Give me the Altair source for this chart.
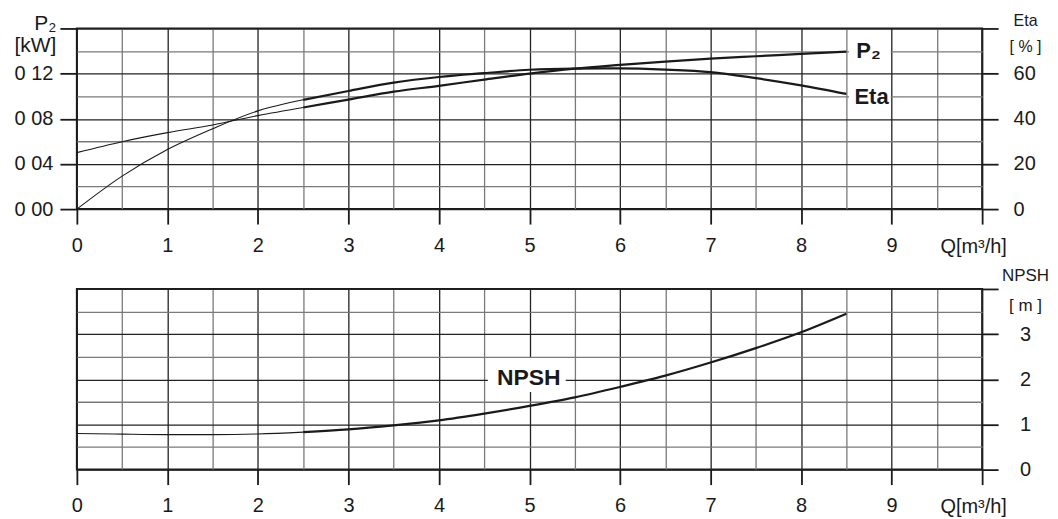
import altair as alt
import pandas as pd

# ---------------- data ----------------
Q = [0, 0.5, 1, 1.5, 2, 2.5, 3, 3.5, 4, 4.5, 5, 5.5, 6, 6.5, 7, 7.5, 8, 8.5]
P2 = [0.0500, 0.0597, 0.0677, 0.0745, 0.0828, 0.0900, 0.0970, 0.1040, 0.1092,
      0.1147, 0.1200, 0.1244, 0.1277, 0.1307, 0.1333, 0.1354, 0.1374, 0.1395]
ETA = [0.0, 14.6, 26.4, 35.6, 43.5, 48.4, 52.3, 56.0, 58.5,
       60.2, 61.7, 62.2, 62.3, 61.8, 60.7, 58.0, 54.8, 51.0]
NPSH = [0.80, 0.785, 0.775, 0.775, 0.79, 0.83, 0.89, 0.98, 1.09,
        1.24, 1.41, 1.60, 1.83, 2.08, 2.37, 2.69, 3.04, 3.45]
THICK_FROM = 2.5  # the curves are drawn heavier from this flow onwards

# curve labels (text, anchor Q, anchor value) and their white boxes (Q1, Q2, v1, v2)
P2_LABEL = ["P₂", 8.61, 0.1342]
ETA_LABEL = ["Eta", 8.59, 46.6]
NPSH_LABEL = ["NPSH", 4.64, 1.88]
P2_BOX = [8.53, 8.99, 0.131, 0.149]
ETA_BOX = [8.53, 8.99, 44.5, 55.0]
NPSH_BOX = [4.54, 5.40, 1.72, 2.47]

Q_DOMAIN = [0, 10]
P2_DOMAIN = [0, 0.16]
ETA_DOMAIN = [0, 80]
NPSH_DOMAIN = [0, 4]

FONT = "Liberation Sans"
INK = "#1a1a1a"
GRID_DARK = "#222222"
GRID_LIGHT = "#7a7a7a"
W, H = 907, 181


def segments(values):
    rows = []
    for q, v in zip(Q, values):
        if q <= THICK_FROM:
            rows.append({"Q": q, "v": v, "seg": "thin"})
        if q >= THICK_FROM:
            rows.append({"Q": q, "v": v, "seg": "thick"})
    return pd.DataFrame(rows)


def box_df(box):
    return pd.DataFrame([box], columns=["Q", "Q2", "v", "v2"])


def label_df(lab):
    return pd.DataFrame([lab], columns=["t", "Q", "v"])


def x_axis():
    return alt.Axis(
        values=[i * 0.5 for i in range(21)],
        grid=True,
        gridColor={"condition": {"test": "datum.value % 1 === 0", "value": GRID_DARK},
                   "value": GRID_LIGHT},
        gridWidth=1.3,
        domain=False,
        tickSize=15, tickWidth=1.8, tickColor=INK,
        tickOpacity={"condition": {"test": "datum.value % 1 === 0", "value": 1}, "value": 0},
        labelExpr="datum.value % 1 === 0 && datum.value < 10 ? format(datum.value, 'd') : ''",
        labelFontSize=20, labelPadding=11, labelFlush=False,
        title="Q[m³/h]", titleFontSize=20, titleX=898, titleY=43,
        titleAlign="center", titleBaseline="alphabetic",
    )


strokew = alt.StrokeWidth("seg:N", scale=alt.Scale(domain=["thin", "thick"], range=[1.1, 2.2]),
                          legend=None)


def panel(values, label, box, y_scale, y_axis, font_size, x_axis_obj):
    line = alt.Chart(segments(values)).mark_line(color=INK, interpolate="monotone").encode(
        strokeWidth=strokew)
    bg = alt.Chart(box_df(box)).mark_rect(color="white").encode(x2="Q2:Q", y2="v2:Q")
    txt = alt.Chart(label_df(label)).mark_text(
        font=FONT, fontSize=font_size, fontWeight="bold", align="left",
        baseline="alphabetic", color=INK).encode(text="t:N")
    return alt.layer(line, bg, txt).encode(
        x=alt.X("Q:Q", scale=alt.Scale(domain=Q_DOMAIN, nice=False), axis=x_axis_obj,
                title="Q[m³/h]"),
        y=alt.Y("v:Q", scale=y_scale, axis=y_axis),
    )


# ---------------- top panel: P2 (left) and Eta (right) ----------------
p2_axis = alt.Axis(
    values=[round(i * 0.02, 2) for i in range(9)],
    grid=True,
    gridColor={"condition": {"test": "round(datum.value * 100) % 4 === 0", "value": GRID_DARK},
               "value": GRID_LIGHT},
    gridWidth=1.3,
    domain=False,
    tickSize=17, tickWidth=1.8, tickColor=INK,
    tickOpacity={"condition": {"test": "round(datum.value * 100) % 4 === 0", "value": 1},
                 "value": 0},
    labelExpr="round(datum.value * 100) % 4 === 0 && datum.value < 0.15 ? "
              "replace(format(datum.value, '.2f'), '.', ' ') : ''",
    labelFontSize=20, labelPadding=7, labelFlush=False, labelBaseline="middle",
    title=["P₂", "[kW]"], titleAngle=0, titleAlign="right", titleBaseline="alphabetic",
    titleX=-21, titleY=1, titleFontSize=21, titleLineHeight=22,
)
eta_axis = alt.Axis(
    orient="right",
    values=[0, 20, 40, 60, 80],
    grid=False, domain=False,
    tickSize=16, tickWidth=1.8, tickColor=INK,
    labelExpr="datum.value < 80 ? datum.label : ''",
    labelFontSize=20, labelPadding=15, labelAlign="left", labelFlush=False,
    labelBaseline="middle",
    title=["Eta", "[ % ]"], titleAngle=0, titleAlign="center", titleBaseline="alphabetic",
    titleX=43, titleY=-3, titleFontSize=16, titleLineHeight=26,
)

top_p2 = panel(P2, P2_LABEL, P2_BOX, alt.Scale(domain=P2_DOMAIN, nice=False), p2_axis, 22,
               x_axis())
top_eta = panel(ETA, ETA_LABEL, ETA_BOX, alt.Scale(domain=ETA_DOMAIN, nice=False), eta_axis,
                22, x_axis())
top = alt.layer(top_p2, top_eta).resolve_scale(y="independent").properties(width=W, height=H)

# ---------------- bottom panel: NPSH ----------------
npsh_axis = alt.Axis(
    orient="right",
    values=[i * 0.5 for i in range(9)],
    grid=True,
    gridColor={"condition": {"test": "datum.value % 1 === 0", "value": GRID_DARK},
               "value": GRID_LIGHT},
    gridWidth=1.3,
    domain=False,
    tickSize=16, tickWidth=1.8, tickColor=INK,
    tickOpacity={"condition": {"test": "datum.value % 1 === 0", "value": 1}, "value": 0},
    labelExpr="datum.value % 1 === 0 && datum.value < 4 ? format(datum.value, 'd') : ''",
    labelFontSize=20, labelPadding=27, labelAlign="center", labelFlush=False,
    labelBaseline="middle",
    title=["NPSH", "[ m ]"], titleAngle=0, titleAlign="center", titleBaseline="alphabetic",
    titleX=43, titleY=-8, titleFontSize=17, titleLineHeight=30,
)
bottom = panel(NPSH, NPSH_LABEL, NPSH_BOX, alt.Scale(domain=NPSH_DOMAIN, nice=False),
               npsh_axis, 23, x_axis()).properties(width=W, height=H)

chart = alt.vconcat(top, bottom, spacing=80, bounds="flush").properties(
    padding={"left": 5, "top": 3, "right": 0, "bottom": 0},
    background="white",
).configure_view(
    stroke=INK, strokeWidth=2
).configure_axis(
    labelFont=FONT, titleFont=FONT, labelColor=INK, titleColor=INK,
    titleFontWeight="normal",
)

chart.save("out.html", embed_options={"renderer": "svg", "actions": False})
